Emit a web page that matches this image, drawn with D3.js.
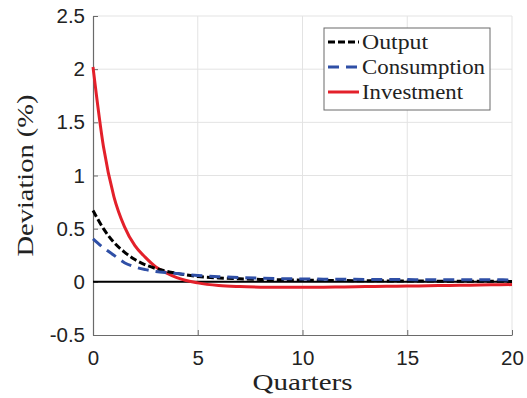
<!DOCTYPE html>
<html>
<head>
<meta charset="utf-8">
<script src="https://cdn.jsdelivr.net/npm/d3@7"></script>
<style>
  html, body { margin: 0; padding: 0; background: #fff; }
  svg { display: block; }
</style>
</head>
<body>
<div id="chart"></div>
<script>
// quarters after the shock
const quarters = [0, 0.5, 1, 1.5, 2, 2.5, 3, 3.5, 4, 5, 6, 7, 8, 9, 10, 11, 12, 13, 14, 15, 16, 17, 18, 19, 20];

const output = [0.67, 0.50, 0.37, 0.28, 0.21, 0.16, 0.125, 0.10, 0.08, 0.05, 0.037, 0.029, 0.023, 0.019, 0.016, 0.014, 0.012, 0.010, 0.009, 0.008, 0.007, 0.006, 0.005, 0.005, 0.004];
const consumption = [0.405, 0.32, 0.25, 0.18, 0.14, 0.115, 0.097, 0.086, 0.078, 0.06, 0.048, 0.040, 0.034, 0.030, 0.027, 0.025, 0.024, 0.023, 0.022, 0.021, 0.020, 0.020, 0.019, 0.019, 0.018];
const investment = [2.02, 1.27, 0.80, 0.52, 0.34, 0.23, 0.14, 0.085, 0.04, -0.01, -0.035, -0.045, -0.05, -0.052, -0.052, -0.05, -0.048, -0.045, -0.042, -0.04, -0.037, -0.034, -0.031, -0.028, -0.026];

const xTicks = [0, 5, 10, 15, 20];
const yTicks = [-0.5, 0, 0.5, 1, 1.5, 2, 2.5];

const series = [
  {name: 'Output', values: output, color: '#000000', dash: '7,3', legW: 66},
  {name: 'Consumption', values: consumption, color: '#2f4fa6', dash: '11,7', legW: 123},
  {name: 'Investment', values: investment, color: '#e3202a', dash: null, legW: 101}
];

const W = 527, H = 398;
const L = 93, R = 512, T = 16, B = 335;
const serif = '"Liberation Serif", "DejaVu Serif", serif';

const svg = d3.select('#chart').append('svg')
  .attr('width', W)
  .attr('height', H);

const x = d3.scaleLinear().domain([0, 20]).range([L, R]);
const y = d3.scaleLinear().domain([-0.5, 2.5]).range([B, T]);

// grid
svg.append('g').selectAll('line')
  .data(xTicks.slice(1))
  .enter().append('line')
  .attr('x1', d => x(d)).attr('x2', d => x(d))
  .attr('y1', T).attr('y2', B)
  .style('stroke', '#e3e3e3').style('stroke-width', 1);
svg.append('g').selectAll('line')
  .data(yTicks.slice(1))
  .enter().append('line')
  .attr('x1', L).attr('x2', R)
  .attr('y1', d => y(d)).attr('y2', d => y(d))
  .style('stroke', '#e3e3e3').style('stroke-width', 1);

// axes
const xAxis = svg.append('g')
  .attr('transform', `translate(0,${B})`)
  .call(d3.axisBottom(x).tickValues(xTicks).tickSizeInner(-5).tickSizeOuter(0).tickPadding(15));
const yAxis = svg.append('g')
  .attr('transform', `translate(${L},0)`)
  .call(d3.axisLeft(y).tickValues(yTicks).tickSizeInner(-5).tickSizeOuter(0).tickPadding(8)
    .tickFormat(d => String(d)));

[xAxis, yAxis].forEach(a => {
  a.select('.domain').style('stroke', '#6a6a6a').style('stroke-width', 1.2);
  a.selectAll('.tick line').style('stroke', '#6a6a6a');
  a.selectAll('.tick text')
    .style('font-family', '"Liberation Sans", Arial, sans-serif')
    .style('font-size', '20.5px')
    .style('fill', '#222');
});

// zero line
svg.append('line')
  .attr('x1', x(0)).attr('x2', x(20))
  .attr('y1', y(0)).attr('y2', y(0))
  .style('stroke', '#000').style('stroke-width', 2);

// series
const line = d3.line()
  .x((d, i) => x(quarters[i]))
  .y(d => y(d))
  .curve(d3.curveMonotoneX);

svg.append('g').selectAll('path')
  .data(series)
  .enter().append('path')
  .attr('class', 'series')
  .attr('d', d => line(d.values))
  .style('fill', 'none')
  .style('stroke', d => d.color)
  .style('stroke-width', 3)
  .style('stroke-dasharray', d => d.dash);

// dashed lines above the red one
svg.selectAll('path.series').filter(d => d.name !== 'Investment').raise();

// labels
svg.append('text')
  .attr('x', (L + R) / 2)
  .attr('y', 390)
  .attr('text-anchor', 'middle')
  .attr('textLength', 100)
  .attr('lengthAdjust', 'spacingAndGlyphs')
  .style('font-family', serif)
  .style('font-size', '23px')
  .style('fill', '#222')
  .text('Quarters');

svg.append('text')
  .attr('transform', `translate(33,${(T + B) / 2}) rotate(-90)`)
  .attr('text-anchor', 'middle')
  .attr('textLength', 162)
  .attr('lengthAdjust', 'spacingAndGlyphs')
  .style('font-family', serif)
  .style('font-size', '23px')
  .style('fill', '#222')
  .text('Deviation (%)');

// legend
const leg = svg.append('g').attr('transform', 'translate(324,28)');
leg.append('rect')
  .attr('width', 166).attr('height', 82)
  .style('fill', '#fff')
  .style('stroke', '#6a6a6a').style('stroke-width', 1);

const items = leg.selectAll('g')
  .data(series)
  .enter().append('g')
  .attr('transform', (d, i) => `translate(0,${14 + i * 25})`);

items.append('line')
  .attr('x1', 4).attr('x2', 35)
  .style('stroke', d => d.color)
  .style('stroke-width', 3)
  .style('stroke-dasharray', d => d.dash);

items.append('text')
  .attr('x', 38)
  .attr('dy', '0.35em')
  .attr('textLength', d => d.legW)
  .attr('lengthAdjust', 'spacingAndGlyphs')
  .style('font-family', serif)
  .style('font-size', '21px')
  .style('fill', '#222')
  .text(d => d.name);
</script>
</body>
</html>
